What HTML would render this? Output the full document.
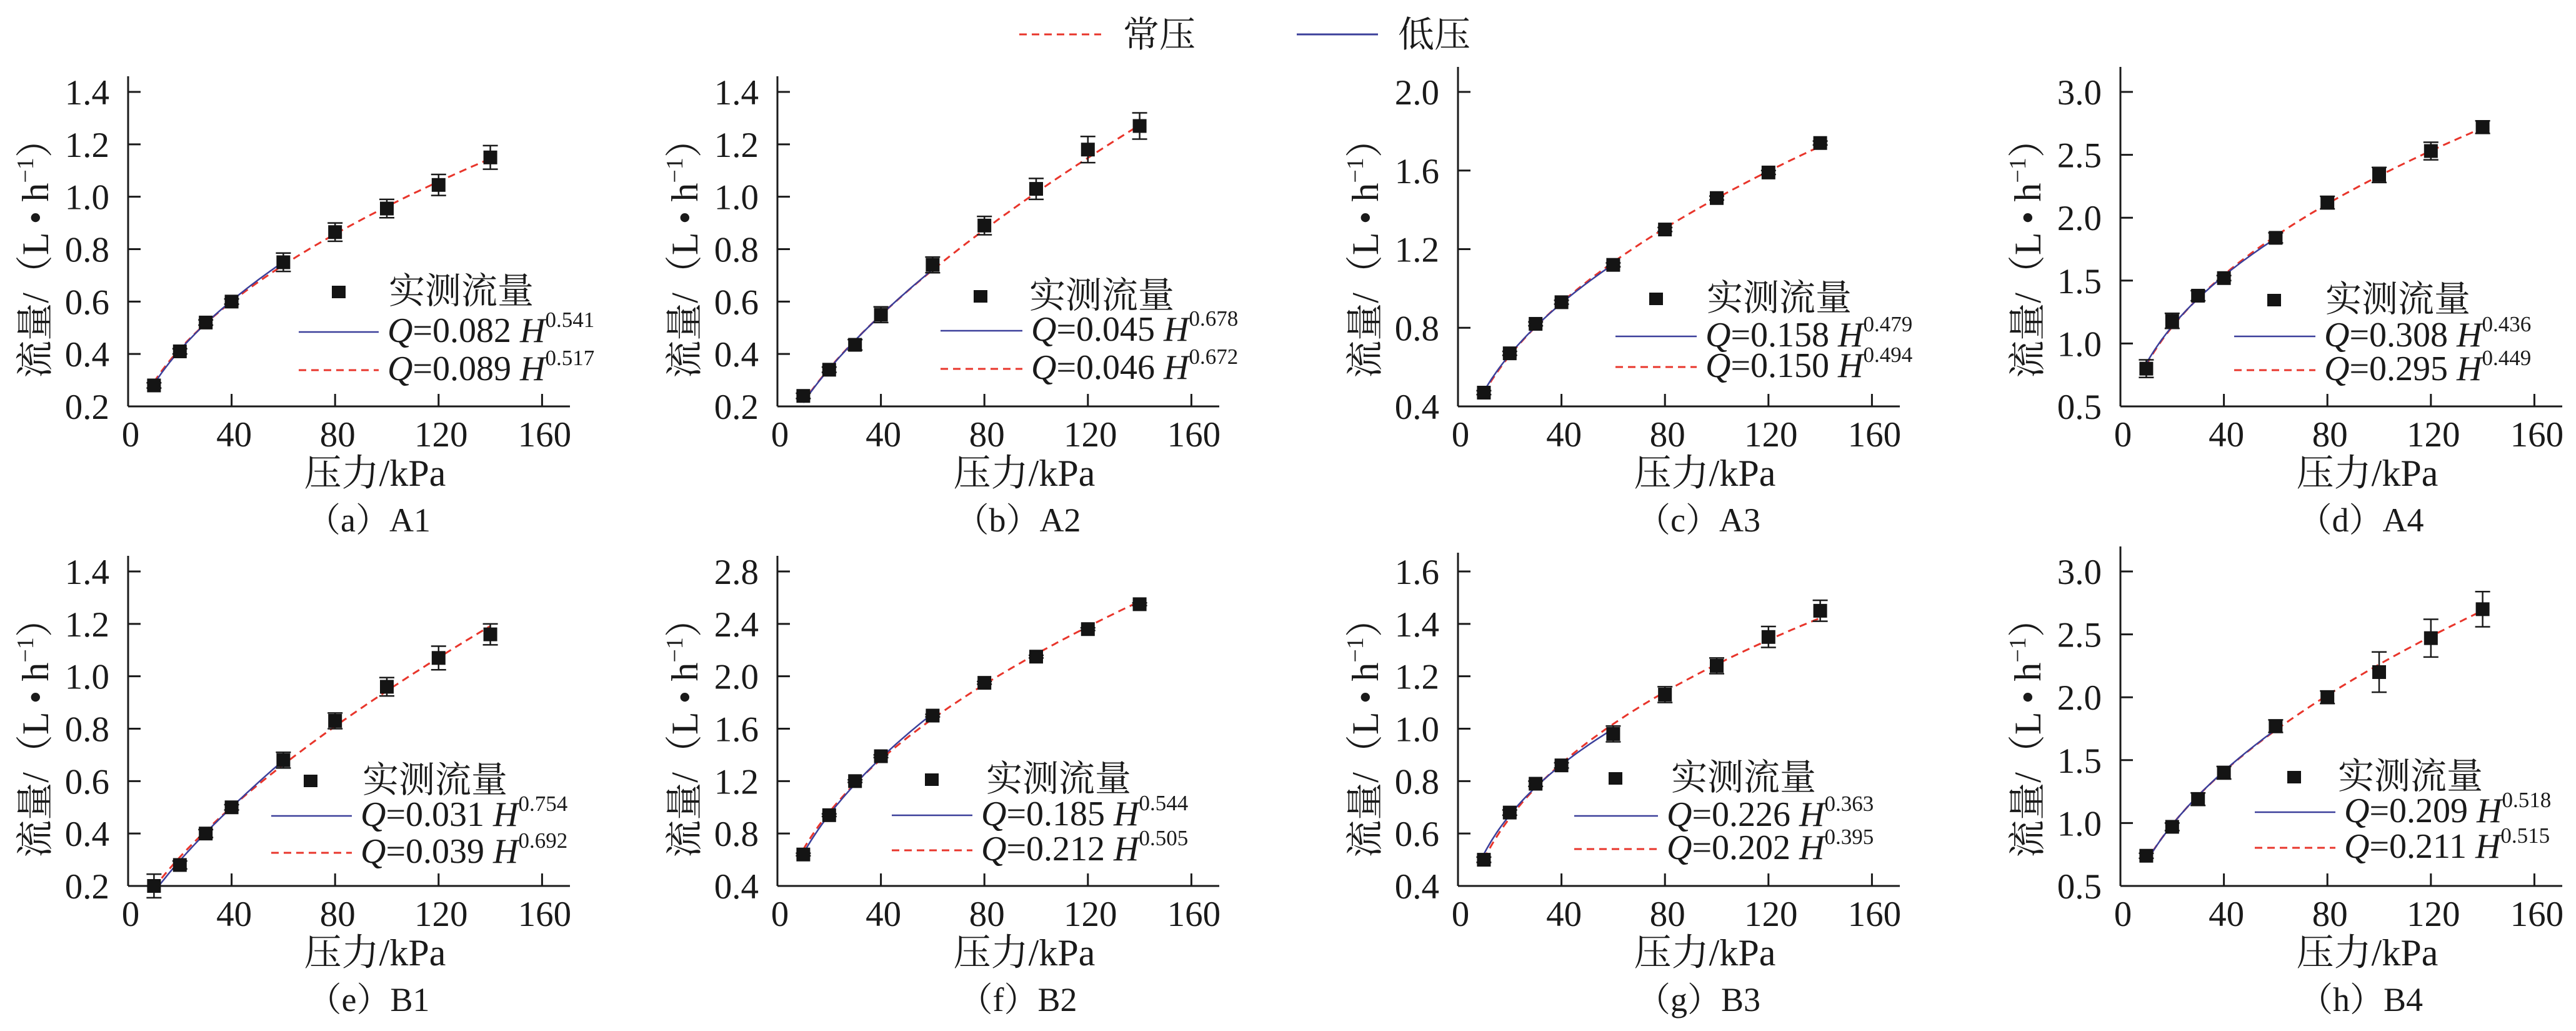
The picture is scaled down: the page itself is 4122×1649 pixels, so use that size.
<!DOCTYPE html>
<html><head><meta charset="utf-8">
<style>
html,body{margin:0;padding:0;background:#fff;width:4122px;height:1649px;overflow:hidden}
svg text{fill:#1a1a1a}
.n{font-family:"Liberation Serif","Noto Serif CJK SC",serif}
.c{font-family:"Liberation Serif","Noto Serif CJK SC","Noto Sans CJK SC",serif}
</style></head>
<body>
<svg id="s" xmlns="http://www.w3.org/2000/svg" width="4122" height="1649" viewBox="0 0 4122 1649">
<line x1="1631" y1="55" x2="1762" y2="55" stroke="#e8352b" stroke-width="3" stroke-dasharray="12,8"/>
<text x="1797" y="75" class="c" font-size="58">常压</text>
<line x1="2075" y1="55" x2="2205" y2="55" stroke="#3b3f9a" stroke-width="3"/>
<text x="2237" y="75" class="c" font-size="58">低压</text>
</svg>
<script>
var S=document.getElementById('s'),NS='http://www.w3.org/2000/svg';
function el(t,a,txt){var e=document.createElementNS(NS,t);for(var k in a)e.setAttribute(k,a[k]);if(txt!=null)e.textContent=txt;S.appendChild(e);return e;}
var X=[10,20,30,40,60,80,100,120,140];
var P=[
{ax:205,row:0,y0:0.2,y1:1.4,st:0.2,ext:25,cap:'（a）A1',v:[.28,.41,.52,.60,.75,.865,.955,1.045,1.15],e:[.01,.01,.01,.01,.035,.035,.035,.04,.045],b:[.082,.541],r:[.089,.517],L:[478,606,542,622,467,531,592]},
{ax:1244,row:0,y0:0.2,y1:1.4,st:0.2,ext:25,cap:'（b）A2',v:[.24,.34,.435,.55,.74,.89,1.03,1.18,1.27],e:[.01,.01,.02,.03,.03,.035,.04,.05,.05],b:[.045,.678],r:[.046,.672],L:[1505,1636,1569,1647,474,529,590]},
{ax:2333,row:0,y0:0.4,y1:2.0,st:0.4,ext:40,cap:'（c）A3',v:[.47,.67,.82,.93,1.12,1.30,1.46,1.59,1.74],e:[.01,.01,.01,.01,.01,.01,.01,.01,.01],b:[.158,.479],r:[.150,.494],L:[2585,2715,2650,2731,478,538,587]},
{ax:3393,row:0,y0:0.5,y1:3.0,st:0.5,ext:40,cap:'（d）A4',v:[.80,1.18,1.38,1.52,1.84,2.12,2.34,2.53,2.72],e:[.07,.06,.04,.02,.04,.05,.06,.07,.05],b:[.308,.436],r:[.295,.449],L:[3575,3705,3639,3721,480,538,592]},
{ax:205,row:1,y0:0.2,y1:1.4,st:0.2,ext:25,cap:'（e）B1',v:[.20,.28,.40,.50,.68,.83,.96,1.07,1.16],e:[.045,.015,.015,.01,.03,.03,.035,.045,.04],b:[.031,.754],r:[.039,.692],L:[434,563,497,580,1249,1305,1364]},
{ax:1244,row:1,y0:0.4,y1:2.8,st:0.4,ext:25,cap:'（f）B2',v:[.64,.94,1.20,1.39,1.70,1.95,2.15,2.36,2.55],e:[.01,.01,.01,.01,.01,.01,.01,.01,.01],b:[.185,.544],r:[.212,.505],L:[1427,1556,1491,1578,1247,1304,1360]},
{ax:2333,row:1,y0:0.4,y1:1.6,st:0.2,ext:30,cap:'（g）B3',v:[.50,.68,.79,.86,.98,1.13,1.24,1.35,1.45],e:[.01,.01,.01,.01,.03,.03,.03,.04,.04],b:[.226,.363],r:[.202,.395],L:[2519,2653,2585,2674,1245,1305,1358]},
{ax:3393,row:1,y0:0.5,y1:3.0,st:0.5,ext:40,cap:'（h）B4',v:[.74,.97,1.19,1.40,1.77,2.00,2.20,2.47,2.70],e:[.02,.03,.05,.05,.05,.05,.16,.15,.14],b:[.209,.518],r:[.211,.515],L:[3608,3737,3671,3741,1243,1299,1356]}
];
P.forEach(function(p){
  var ob=p.row*767, bot=650+ob, top=147+ob, ax=p.ax, kx=4.14;
  var sx=function(h){return ax+h*kx;}, sy=function(q){return bot-(q-p.y0)/(p.y1-p.y0)*(bot-top);};
  el('line',{x1:ax,y1:top-p.ext,x2:ax,y2:bot,stroke:'#1a1a1a','stroke-width':3});
  el('line',{x1:ax,y1:bot,x2:ax+707,y2:bot,stroke:'#1a1a1a','stroke-width':3});
  for(var i=0;i<=4;i++){var x=sx(i*40);
    if(i>0)el('line',{x1:x,y1:bot,x2:x,y2:bot-20,stroke:'#1a1a1a','stroke-width':3});
    el('text',{x:x+4,y:bot+64,'text-anchor':'middle','font-size':57,'class':'n'},String(i*40));}
  var n=Math.round((p.y1-p.y0)/p.st);
  for(var j=0;j<=n;j++){var q=p.y0+j*p.st,y=sy(q);
    if(j>0)el('line',{x1:ax,y1:y,x2:ax+20,y2:y,stroke:'#1a1a1a','stroke-width':3});
    el('text',{x:ax-30,y:y+20,'text-anchor':'end','font-size':57,'class':'n'},q.toFixed(1));}
  var t=el('text',{x:0,y:0,'text-anchor':'middle','font-size':60,'class':'c',transform:'translate('+(ax-128)+','+((top+bot)/2)+') rotate(-90)'},'流量/（L • h');
  var ts=document.createElementNS(NS,'tspan');ts.setAttribute('font-size','38');ts.setAttribute('dy','-24');ts.textContent='−1';t.appendChild(ts);
  var ts2=document.createElementNS(NS,'tspan');ts2.setAttribute('dy','24');ts2.textContent='）';t.appendChild(ts2);
  el('text',{x:ax+395,y:bot+127,'text-anchor':'middle','font-size':60,'class':'c'},'压力/kPa');
  el('text',{x:ax+385,y:bot+200,'text-anchor':'middle','font-size':54,'class':'c'},p.cap);
  function curve(c,x2,attr){var d='';for(var h=10;h<=x2;h+=1){d+=(h==10?'M':'L')+sx(h).toFixed(1)+','+sy(c[0]*Math.pow(h,c[1])).toFixed(1);}attr.d=d;attr.fill='none';el('path',attr);}
  curve(p.r,140,{stroke:'#e8352b','stroke-width':3,'stroke-dasharray':'12,8'});
  curve(p.b,60,{stroke:'#3b3f9a','stroke-width':2.5});
  X.forEach(function(h,i){var x=sx(h),y=sy(p.v[i]),e=p.e[i]*(bot-top)/(p.y1-p.y0);
    el('line',{x1:x,y1:y-e,x2:x,y2:y+e,stroke:'#1a1a1a','stroke-width':2.5});
    el('line',{x1:x-12,y1:y-e,x2:x+12,y2:y-e,stroke:'#1a1a1a','stroke-width':2.5});
    el('line',{x1:x-12,y1:y+e,x2:x+12,y2:y+e,stroke:'#1a1a1a','stroke-width':2.5});
    el('rect',{x:x-11,y:y-11,width:22,height:22,fill:'#141414'});});
  var L=p.L;
  el('rect',{x:L[2]-11,y:L[4]-10,width:22,height:20,fill:'#141414'});
  el('text',{x:L[3],y:L[4]+18,'font-size':58,'class':'c'},'实测流量');
  el('line',{x1:L[0],y1:L[5],x2:L[1],y2:L[5],stroke:'#3b3f9a','stroke-width':2.5});
  el('line',{x1:L[0],y1:L[6],x2:L[1],y2:L[6],stroke:'#e8352b','stroke-width':3,'stroke-dasharray':'12,8'});
  [[p.b,L[5]],[p.r,L[6]]].forEach(function(a){
    var t=el('text',{x:L[1]+14,y:a[1]+16,'font-size':56,'class':'n'});
    var s1=document.createElementNS(NS,'tspan');s1.setAttribute('font-style','italic');s1.textContent='Q';t.appendChild(s1);
    var s2=document.createElementNS(NS,'tspan');s2.textContent='='+a[0][0].toFixed(3)+' ';t.appendChild(s2);
    var s3=document.createElementNS(NS,'tspan');s3.setAttribute('font-style','italic');s3.textContent='H';t.appendChild(s3);
    var s4=document.createElementNS(NS,'tspan');s4.setAttribute('font-size','35');s4.setAttribute('dy','-24');s4.textContent=a[0][1].toFixed(3);t.appendChild(s4);
  });
});
</script>
</body></html>
